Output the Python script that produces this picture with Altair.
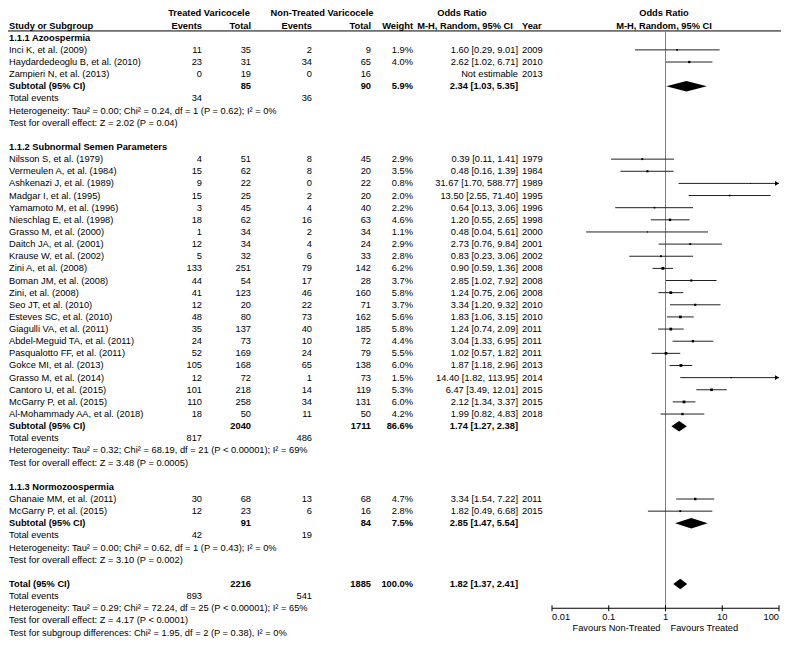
import altair as alt
import pandas as pd

# ---------------- data ----------------
groups = ["1.1.1 Azoospermia", "1.1.2 Subnormal Semen Parameters", "1.1.3 Normozoospermia"]

studies = [
    "Inci K, et al. (2009)", "Haydardedeoglu B, et al. (2010)", "Zampieri N, et al. (2013)",
    "Nilsson S, et al. (1979)", "Vermeulen A, et al. (1984)", "Ashkenazi J, et al. (1989)",
    "Madgar I, et al. (1995)", "Yamamoto M, et al. (1996)", "Nieschlag E, et al. (1998)",
    "Grasso M, et al. (2000)", "Daitch JA, et al. (2001)", "Krause W, et al. (2002)",
    "Zini A, et al. (2008)", "Boman JM, et al. (2008)", "Zini, et al. (2008)",
    "Seo JT, et al. (2010)", "Esteves SC, et al. (2010)", "Giagulli VA, et al. (2011)",
    "Abdel-Meguid TA, et al. (2011)", "Pasqualotto FF, et al. (2011)", "Gokce MI, et al. (2013)",
    "Grasso M, et al. (2014)", "Cantoro U, et al. (2015)", "McGarry P, et al. (2015)",
    "Al-Mohammady AA, et al. (2018)",
    "Ghanaie MM, et al. (2011)", "McGarry P, et al. (2015)",
]
study_group = [0, 0, 0] + [1] * 22 + [2, 2]
years = [2009, 2010, 2013, 1979, 1984, 1989, 1995, 1996, 1998, 2000, 2001, 2002, 2008, 2008, 2008,
         2010, 2010, 2011, 2011, 2011, 2013, 2014, 2015, 2015, 2018, 2011, 2015]
ev_t = [11, 23, 0, 4, 15, 9, 15, 3, 18, 1, 12, 5, 133, 44, 41, 12, 48, 35, 24, 52, 105, 12, 101, 110, 18, 30, 12]
tot_t = [35, 31, 19, 51, 62, 22, 25, 45, 62, 34, 34, 32, 251, 54, 123, 20, 80, 137, 73, 169, 168, 72, 218, 258, 50, 68, 23]
ev_c = [2, 34, 0, 8, 8, 0, 2, 4, 16, 2, 4, 6, 79, 17, 46, 22, 73, 40, 10, 24, 65, 1, 14, 34, 11, 13, 6]
tot_c = [9, 65, 16, 45, 20, 22, 20, 40, 63, 34, 24, 33, 142, 28, 160, 71, 162, 185, 72, 79, 138, 73, 119, 131, 50, 68, 16]
weights = [1.9, 4.0, None, 2.9, 3.5, 0.8, 2.0, 2.2, 4.6, 1.1, 2.9, 2.8, 6.2, 3.7, 5.8,
           3.7, 5.6, 5.8, 4.4, 5.5, 6.0, 1.5, 5.3, 6.0, 4.2, 4.7, 2.8]
odds = [1.60, 2.62, None, 0.39, 0.48, 31.67, 13.50, 0.64, 1.20, 0.48, 2.73, 0.83, 0.90, 2.85, 1.24,
        3.34, 1.83, 1.24, 3.04, 1.02, 1.87, 14.40, 6.47, 2.12, 1.99, 3.34, 1.82]
ci_lo = [0.29, 1.02, None, 0.11, 0.16, 1.70, 2.55, 0.13, 0.55, 0.04, 0.76, 0.23, 0.59, 1.02, 0.75,
         1.20, 1.06, 0.74, 1.33, 0.57, 1.18, 1.82, 3.49, 1.34, 0.82, 1.54, 0.49]
ci_hi = [9.01, 6.71, None, 1.41, 1.39, 588.77, 71.40, 3.06, 2.65, 5.61, 9.84, 3.06, 1.36, 7.92, 2.06,
         9.32, 3.15, 2.09, 6.95, 1.82, 2.96, 113.95, 12.01, 3.37, 4.83, 7.22, 6.68]

sub_ev_t = [34, 817, 42]
sub_ev_c = [36, 486, 19]
sub_tot_t = [85, 2040, 91]
sub_tot_c = [90, 1711, 84]
sub_w = [5.9, 86.6, 7.5]
sub_or = [2.34, 1.74, 2.85]
sub_lo = [1.03, 1.27, 1.47]
sub_hi = [5.35, 2.38, 5.54]
sub_het = [
    "Heterogeneity: Tau² = 0.00; Chi² = 0.24, df = 1 (P = 0.62); I² = 0%",
    "Heterogeneity: Tau² = 0.32; Chi² = 68.19, df = 21 (P < 0.00001); I² = 69%",
    "Heterogeneity: Tau² = 0.00; Chi² = 0.62, df = 1 (P = 0.43); I² = 0%",
]
sub_z = [
    "Test for overall effect: Z = 2.02 (P = 0.04)",
    "Test for overall effect: Z = 3.48 (P = 0.0005)",
    "Test for overall effect: Z = 3.10 (P = 0.002)",
]

all_tot_t, all_tot_c, all_w = 2216, 1885, 100.0
all_or, all_lo, all_hi = 1.82, 1.37, 2.41
all_ev_t, all_ev_c = 893, 541
all_het = "Heterogeneity: Tau² = 0.29; Chi² = 72.24, df = 25 (P < 0.00001); I² = 65%"
all_z = "Test for overall effect: Z = 4.17 (P < 0.0001)"
subgroup_diff = "Test for subgroup differences: Chi² = 1.95, df = 2 (P = 0.38), I² = 0%"

axis_ticks = [0.01, 0.1, 1, 10, 100]
axis_labels = ["0.01", "0.1", "1", "10", "100"]
favours_left = "Favours Non-Treated"
favours_right = "Favours Treated"

# ---------------- layout / style ----------------
W, H = 773, 630
FONT = "Liberation Sans"
FS = 9.3
COLS = {
    "name": (1, "left"), "ev_t": (194, "right"), "tot_t": (243, "right"),
    "ev_c": (304, "right"), "tot_c": (363, "right"), "w": (405, "right"),
    "ci": (510, "right"), "year": (514, "left"),
    "h_t": (201, "center"), "h_c": (314, "center"), "h_or": (454, "center"),
    "h_mh": (457, "center"), "h_for": (656, "center"),
}
HDR_ROW = 1.44
XS = alt.Scale(type="log", domain=[0.01, 100], range=[544, 771], nice=False)
YS = alt.Scale(domain=[-0.45, 51.45], range=[0, H], nice=False, zero=False)
DIA_H = 0.43


def fmt_ci(o, l, h):
    return f"{o:.2f} [{l:.2f}, {h:.2f}]"


cells = []
def cell(row, col, text, bold=False):
    cells.append({"row": row, "col": col, "text": text, "bold": bold})

# headers
cell(0, "h_t", "Treated Varicocele", True)
cell(0, "h_c", "Non-Treated Varicocele", True)
cell(0, "h_or", "Odds Ratio", True)
cell(0, "h_for", "Odds Ratio", True)
cell(1, "name", "Study or Subgroup", True)
cell(1, "ev_t", "Events", True)
cell(1, "tot_t", "Total", True)
cell(1, "ev_c", "Events", True)
cell(1, "tot_c", "Total", True)
cell(1, "w", "Weight", True)
cell(1, "h_mh", "M-H, Random, 95% CI", True)
cell(1, "year", "Year", True)
cell(1, "h_for", "M-H, Random, 95% CI", True)

study_rows, diamonds = [], []
row = 2
for g, gname in enumerate(groups):
    cell(row, "name", gname, True)
    row += 1
    for i, s in enumerate(studies):
        if study_group[i] != g:
            continue
        cell(row, "name", s)
        cell(row, "ev_t", str(ev_t[i]))
        cell(row, "tot_t", str(tot_t[i]))
        cell(row, "ev_c", str(ev_c[i]))
        cell(row, "tot_c", str(tot_c[i]))
        cell(row, "year", str(years[i]))
        if odds[i] is None:
            cell(row, "ci", "Not estimable")
        else:
            cell(row, "w", f"{weights[i]:.1f}%")
            cell(row, "ci", fmt_ci(odds[i], ci_lo[i], ci_hi[i]))
            study_rows.append({"row": row, "or": odds[i], "lo": ci_lo[i],
                               "hi": min(ci_hi[i], 100), "w": weights[i],
                               "arrow": ci_hi[i] > 100})
        row += 1
    cell(row, "name", "Subtotal (95% CI)", True)
    cell(row, "tot_t", str(sub_tot_t[g]), True)
    cell(row, "tot_c", str(sub_tot_c[g]), True)
    cell(row, "w", f"{sub_w[g]:.1f}%", True)
    cell(row, "ci", fmt_ci(sub_or[g], sub_lo[g], sub_hi[g]), True)
    diamonds.append((f"g{g}", row, sub_or[g], sub_lo[g], sub_hi[g]))
    row += 1
    cell(row, "name", "Total events")
    cell(row, "ev_t", str(sub_ev_t[g]))
    cell(row, "ev_c", str(sub_ev_c[g]))
    row += 1
    cell(row, "name", sub_het[g]); row += 1
    cell(row, "name", sub_z[g]); row += 1
    row += 1

cell(row, "name", "Total (95% CI)", True)
cell(row, "tot_t", str(all_tot_t), True)
cell(row, "tot_c", str(all_tot_c), True)
cell(row, "w", f"{all_w:.1f}%", True)
cell(row, "ci", fmt_ci(all_or, all_lo, all_hi), True)
diamonds.append(("all", row, all_or, all_lo, all_hi))
row += 1
cell(row, "name", "Total events")
cell(row, "ev_t", str(all_ev_t))
cell(row, "ev_c", str(all_ev_c))
row += 1
AXIS_ROW = row
cell(row, "name", all_het); row += 1
cell(row, "name", all_z); row += 1
cell(row, "name", subgroup_diff)

cells_df = pd.DataFrame(cells)
study_df = pd.DataFrame(study_rows)

dia_pts = []
for key, r, o, l, h in diamonds:
    dia_pts += [
        {"key": key, "x": l, "y": r, "y2": r},
        {"key": key, "x": o, "y": r - DIA_H, "y2": r + DIA_H},
        {"key": key, "x": h, "y": r, "y2": r},
    ]
dia_df = pd.DataFrame(dia_pts)

layers = []

# text columns
for col, (px, align) in COLS.items():
    for bold in (False, True):
        sub = cells_df[(cells_df["col"] == col) & (cells_df["bold"] == bold)]
        if sub.empty:
            continue
        layers.append(
            alt.Chart(sub).mark_text(
                align=align, baseline="middle", font=FONT, fontSize=FS,
                fontWeight="bold" if bold else "normal", color="black",
            ).encode(
                x=alt.value(px),
                y=alt.Y("row:Q", scale=YS, axis=None),
                text="text:N",
            )
        )

# header rule
layers.append(
    alt.Chart(pd.DataFrame({"row": [HDR_ROW]})).mark_rule(color="black", strokeWidth=1).encode(
        x=alt.value(0), x2=alt.value(W), y=alt.Y("row:Q", scale=YS, axis=None)
    )
)

# vertical line of no effect
layers.append(
    alt.Chart(pd.DataFrame({"x": [1], "y0": [HDR_ROW], "y1": [AXIS_ROW]})).mark_rule(
        color="#808080", strokeWidth=1
    ).encode(
        x=alt.X("x:Q", scale=XS, axis=None),
        y=alt.Y("y0:Q", scale=YS, axis=None), y2="y1:Q",
    )
)

# CI lines
layers.append(
    alt.Chart(study_df).mark_rule(color="#222222", strokeWidth=1).encode(
        x=alt.X("lo:Q", scale=XS, axis=None), x2="hi:Q",
        y=alt.Y("row:Q", scale=YS, axis=None),
    )
)
# arrows
layers.append(
    alt.Chart(study_df[study_df["arrow"]]).mark_point(
        shape="triangle-right", filled=True, size=22, color="black", opacity=1, xOffset=-2
    ).encode(
        x=alt.X("hi:Q", scale=XS, axis=None),
        y=alt.Y("row:Q", scale=YS, axis=None),
    )
)
# squares
layers.append(
    alt.Chart(study_df).mark_square(color="black", opacity=1).encode(
        x=alt.X("or:Q", scale=XS, axis=None),
        y=alt.Y("row:Q", scale=YS, axis=None),
        size=alt.Size("w:Q", scale=alt.Scale(domain=[0, 7], range=[0, 9]), legend=None),
    )
)
# diamonds
layers.append(
    alt.Chart(dia_df).mark_area(color="black", orient="vertical", opacity=1).encode(
        x=alt.X("x:Q", scale=XS, axis=None),
        y=alt.Y("y:Q", scale=YS, axis=None), y2="y2:Q",
        detail="key:N",
    )
)

# axis
tick_df = pd.DataFrame({"t": axis_ticks, "label": axis_labels, "i": range(len(axis_ticks)),
                        "row": [AXIS_ROW] * len(axis_ticks)})
tick_df["lrow"] = AXIS_ROW + 0.7
layers.append(
    alt.Chart(pd.DataFrame({"a": [axis_ticks[0]], "b": [axis_ticks[-1]], "row": [AXIS_ROW]})).mark_rule(
        color="black", strokeWidth=1
    ).encode(
        x=alt.X("a:Q", scale=XS, axis=None), x2="b:Q",
        y=alt.Y("row:Q", scale=YS, axis=None),
    )
)
layers.append(
    alt.Chart(tick_df).mark_tick(orient="vertical", size=6, thickness=1, color="black", opacity=1).encode(
        x=alt.X("t:Q", scale=XS, axis=None),
        y=alt.Y("row:Q", scale=YS, axis=None),
    )
)
n = len(axis_ticks)
for cond, align in (("datum.i == 0", "left"), (f"datum.i == {n-1}", "right"),
                    (f"datum.i > 0 && datum.i < {n-1}", "center")):
    layers.append(
        alt.Chart(tick_df).transform_filter(cond).mark_text(
            align=align, baseline="middle", font=FONT, fontSize=FS, color="black"
        ).encode(
            x=alt.X("t:Q", scale=XS, axis=None),
            y=alt.Y("lrow:Q", scale=YS, axis=None),
            text="label:N",
        )
    )
fav_df = pd.DataFrame({"x": [1, 1], "row": [AXIS_ROW + 1.65] * 2, "txt": [favours_left, favours_right],
                       "side": ["L", "R"]})
layers.append(
    alt.Chart(fav_df).transform_filter("datum.side == 'L'").mark_text(
        align="right", baseline="middle", font=FONT, fontSize=FS, color="black", dx=-5
    ).encode(x=alt.X("x:Q", scale=XS, axis=None), y=alt.Y("row:Q", scale=YS, axis=None), text="txt:N")
)
layers.append(
    alt.Chart(fav_df).transform_filter("datum.side == 'R'").mark_text(
        align="left", baseline="middle", font=FONT, fontSize=FS, color="black", dx=5
    ).encode(x=alt.X("x:Q", scale=XS, axis=None), y=alt.Y("row:Q", scale=YS, axis=None), text="txt:N")
)

chart = alt.layer(*layers).properties(
    width=W, height=H, padding=0, autosize=alt.AutoSizeParams(type="none"),
    background="white",
).configure_view(stroke=None)

chart.save("out.html", embed_options={"renderer": "svg", "actions": False})
